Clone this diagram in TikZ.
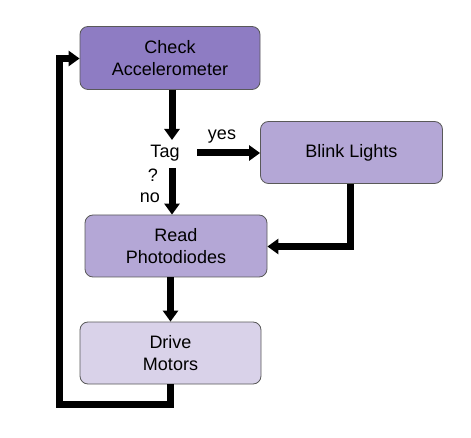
\documentclass[tikz,border=0pt]{standalone}
\usepackage{fontspec}
\setmainfont{Liberation Sans}
\usetikzlibrary{arrows.meta}
\definecolor{pdark}{HTML}{8E7CC3}
\definecolor{pmid}{HTML}{B4A7D6}
\definecolor{plight}{HTML}{D9D2E9}
\definecolor{bordergray}{HTML}{595959}
\begin{document}
\begin{tikzpicture}[x=1pt,y=-1pt,
  box/.style={draw=bordergray,line width=0.8pt,rounded corners=8pt,align=center,
    inner sep=0pt,font=\fontsize{18}{22}\selectfont},
  lbl/.style={inner sep=0pt,font=\fontsize{18}{22}\selectfont},
  conn/.style={line width=7pt,-{Triangle[width=15pt,length=11pt]}}]
\useasboundingbox (0,0) rectangle (471,438);
\node[box,fill=pdark,minimum width=180pt,minimum height=63pt] (check) at (170,58) {Check\\Accelerometer};
\node[box,fill=pmid,minimum width=182pt,minimum height=62pt] (blink) at (351.5,152.5) {\raisebox{-3pt}{Blink Lights}};
\node[box,fill=pmid,minimum width=182pt,minimum height=62pt] (read) at (176,246) {Read\\Photodiodes};
\node[box,fill=plight,minimum width=181pt,minimum height=62pt] (drive) at (170.5,353) {Drive\\Motors};
\node[lbl] (tag) at (165,153) {Tag};
\node[lbl] (q) at (153,175) {?};
\node[lbl] (no) at (150,198) {no};
\node[lbl] (yes) at (222,137) {yes};
\coordinate (tagtop) at (172,140);
\coordinate (tagright) at (197,153);
\coordinate (tagbot) at (172,168);
\coordinate (bl) at (350,246.5);
\coordinate (lp1) at (170.5,404);
\coordinate (lp2) at (59,404);
\coordinate (lp3) at (59,58.5);
\draw[conn] (check.south -| tagtop) -- (tagtop);
\draw[conn] (tagright) -- (blink.west |- tagright);
\draw[conn] (tagbot) -- (read.north -| tagbot);
\draw[conn] (blink.south -| bl) -- ([yshift=3.5pt]bl) -- (bl) -- (read.east |- bl);
\draw[conn] (read.south -| drive) -- (drive.north);
\draw[conn] (drive.south -| lp1) -- (lp1) -- (lp2) -- (lp3) -- (check.west |- lp3);
\end{tikzpicture}
\end{document}
